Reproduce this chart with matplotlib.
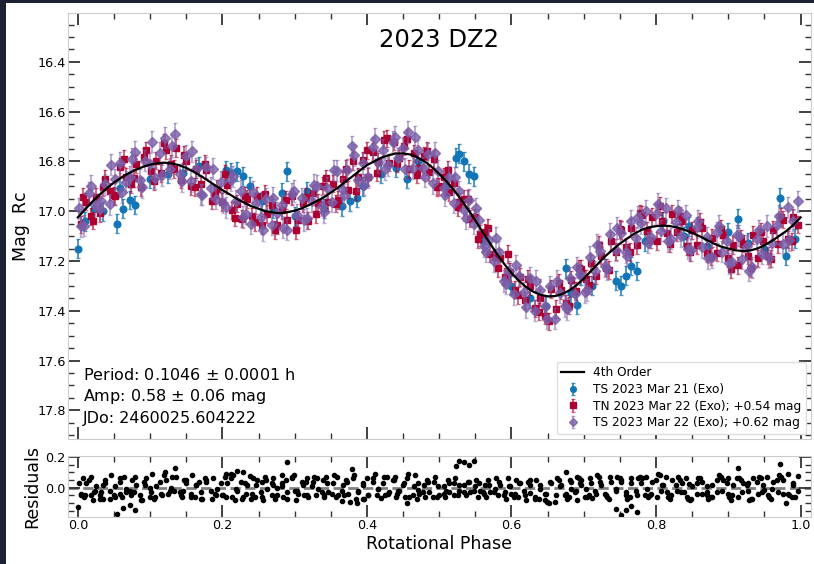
import numpy as np
import matplotlib
matplotlib.use('Agg')
import matplotlib.pyplot as plt
from matplotlib.ticker import MultipleLocator
from matplotlib.patches import Rectangle
from matplotlib.colors import to_rgba

# 4th order fit, every 0.01 in phase
fit_mag = [17.025, 16.993, 16.962, 16.934, 16.908, 16.885, 16.865, 16.848, 16.834, 16.822,
           16.813, 16.807, 16.805, 16.808, 16.815, 16.826, 16.841, 16.858, 16.877, 16.896,
           16.915, 16.932, 16.950, 16.965, 16.980, 16.990, 17.000, 17.005, 17.008, 17.004,
           16.998, 16.988, 16.975, 16.960, 16.945, 16.925, 16.905, 16.882, 16.860, 16.837,
           16.815, 16.800, 16.785, 16.775, 16.768, 16.768, 16.772, 16.784, 16.800, 16.823,
           16.850, 16.880, 16.914, 16.952, 16.993, 17.037, 17.083, 17.128, 17.172, 17.212,
           17.248, 17.279, 17.304, 17.323, 17.336, 17.342, 17.341, 17.333, 17.318, 17.297,
           17.271, 17.240, 17.210, 17.180, 17.155, 17.130, 17.110, 17.090, 17.075, 17.065,
           17.060, 17.058, 17.060, 17.066, 17.075, 17.087, 17.100, 17.115, 17.130, 17.142,
           17.150, 17.157, 17.160, 17.158, 17.150, 17.137, 17.120, 17.100, 17.080, 17.055,
           17.025]
fit_phase = np.linspace(0, 1, len(fit_mag))

# TS 2023 Mar 21 (Exo)
ph_ts21 = [0.000, 0.010, 0.022, 0.035, 0.054, 0.058, 0.062, 0.072, 0.079, 0.100,
           0.125, 0.146, 0.168, 0.205, 0.212, 0.220, 0.228, 0.238, 0.255, 0.270,
           0.282, 0.289, 0.300, 0.317, 0.340, 0.365, 0.377, 0.386, 0.395, 0.420,
           0.440, 0.455, 0.470, 0.510, 0.523, 0.528, 0.534, 0.541, 0.548, 0.560,
           0.600, 0.625, 0.648, 0.675, 0.682, 0.691, 0.696, 0.712, 0.745, 0.752,
           0.758, 0.765, 0.773, 0.785, 0.810, 0.839, 0.845, 0.870, 0.900, 0.913,
           0.927, 0.950, 0.971, 0.980, 0.992]
mag_ts21 = [17.150, 17.040, 16.990, 17.000, 17.050, 16.905, 16.990, 16.955, 16.975, 16.870,
            16.850, 16.845, 16.820, 16.835, 16.845, 16.840, 16.860, 16.900, 16.960, 16.990,
            16.925, 16.840, 17.020, 16.920, 16.990, 16.980, 16.960, 16.945, 16.900, 16.850,
            16.825, 16.870, 16.800, 16.900, 16.785, 16.770, 16.800, 16.850, 16.860, 17.120,
            17.300, 17.350, 17.380, 17.230, 17.330, 17.375, 17.260, 17.300, 17.280, 17.300,
            17.260, 17.220, 17.240, 17.120, 17.040, 17.100, 17.060, 17.140, 17.085, 17.030,
            17.127, 17.150, 16.945, 17.180, 17.110]
res_ts21 = [-0.125, -0.045, -0.030, -0.073, -0.170, -0.040, -0.133, -0.113, -0.144, -0.060,
            -0.043, -0.019, 0.037, 0.089, 0.090, 0.110, 0.102, 0.077, 0.035, 0.015,
            0.082, 0.164, -0.022, 0.060, -0.045, -0.087, -0.093, -0.099, -0.074, -0.065,
            -0.057, -0.100, -0.016, -0.020, 0.140, 0.173, 0.166, 0.144, 0.170, -0.030,
            -0.040, -0.032, -0.039, 0.100, -0.010, -0.080, 0.020, -0.066, -0.138, -0.174,
            -0.146, -0.120, -0.155, -0.050, 0.018, -0.026, 0.021, -0.025, 0.065, 0.128,
            0.032, -0.013, 0.153, -0.100, -0.060]

# TN 2023 Mar 22 (Exo); +0.54 mag
ph_tn22 = [0.004, 0.011, 0.018, 0.025, 0.031, 0.038, 0.045, 0.052, 0.059, 0.066,
           0.073, 0.080, 0.087, 0.094, 0.101, 0.108, 0.115, 0.122, 0.129, 0.136,
           0.143, 0.150, 0.157, 0.164, 0.171, 0.178, 0.185, 0.192, 0.199, 0.206,
           0.213, 0.220, 0.227, 0.234, 0.241, 0.248, 0.255, 0.262, 0.269, 0.276,
           0.283, 0.290, 0.297, 0.304, 0.311, 0.318, 0.325, 0.332, 0.339, 0.346,
           0.353, 0.360, 0.367, 0.374, 0.381, 0.388, 0.395, 0.402, 0.409, 0.416,
           0.423, 0.430, 0.437, 0.444, 0.451, 0.458, 0.465, 0.472, 0.479, 0.486,
           0.493, 0.500, 0.507, 0.514, 0.521, 0.528, 0.535, 0.542, 0.549, 0.556,
           0.563, 0.570, 0.577, 0.584, 0.591, 0.598, 0.605, 0.612, 0.619, 0.626,
           0.633, 0.640, 0.647, 0.654, 0.661, 0.668, 0.675, 0.682, 0.689, 0.696,
           0.703, 0.710, 0.717, 0.724, 0.731, 0.738, 0.745, 0.752, 0.759, 0.766,
           0.773, 0.780, 0.787, 0.794, 0.801, 0.808, 0.815, 0.822, 0.829, 0.836,
           0.843, 0.850, 0.857, 0.864, 0.871, 0.878, 0.885, 0.892, 0.899, 0.906,
           0.913, 0.920, 0.927, 0.934, 0.941, 0.948, 0.955, 0.962, 0.969, 0.976,
           0.983, 0.990, 0.997,
           0.0075, 0.0215, 0.0355, 0.0495, 0.0635, 0.0775, 0.0915, 0.1055, 0.1195, 0.1335,
           0.1475, 0.1615, 0.1755, 0.1895, 0.2035, 0.2175, 0.2315, 0.2455, 0.2595, 0.2735,
           0.2875, 0.3015, 0.3155, 0.3295, 0.3435, 0.3575, 0.3715, 0.3855, 0.3995, 0.4135,
           0.4275, 0.4415, 0.4555, 0.4695, 0.4835, 0.4975, 0.5115, 0.5255, 0.5395, 0.5535,
           0.5675, 0.5815, 0.5955, 0.6095, 0.6235, 0.6375, 0.6515, 0.6655, 0.6795, 0.6935,
           0.7075, 0.7215, 0.7355, 0.7495, 0.7635, 0.7775, 0.7915, 0.8055, 0.8195, 0.8335,
           0.8475, 0.8615, 0.8755, 0.8895, 0.9035, 0.9175, 0.9315, 0.9455, 0.9595, 0.9735,
           0.9875]
mag_tn22 = [17.053, 16.962, 17.021, 16.942, 17.007, 16.870, 16.920, 16.940, 16.822, 16.861,
            16.890, 16.810, 16.903, 16.756, 16.840, 16.797, 16.846, 16.756, 16.810, 16.746,
            16.873, 16.800, 16.900, 16.831, 16.892, 16.836, 16.958, 16.910, 16.963, 16.895,
            16.997, 16.970, 17.030, 16.951, 17.021, 16.938, 17.055, 17.011, 16.975, 17.057,
            16.997, 17.034, 16.940, 17.034, 16.967, 17.038, 16.928, 16.967, 16.897, 16.963,
            16.889, 16.955, 16.869, 16.913, 16.798, 16.862, 16.796, 16.862, 16.761, 16.801,
            16.712, 16.805, 16.720, 16.788, 16.738, 16.831, 16.768, 16.827, 16.778, 16.844,
            16.791, 16.900, 16.861, 16.924, 16.888, 16.963, 16.950, 17.030, 17.025, 17.090,
            17.085, 17.170, 17.185, 17.186, 17.263, 17.244, 17.315, 17.264, 17.358, 17.300,
            17.390, 17.347, 17.420, 17.312, 17.392, 17.317, 17.370, 17.276, 17.320, 17.231,
            17.271, 17.210, 17.259, 17.178, 17.227, 17.120, 17.162, 17.076, 17.142, 17.068,
            17.135, 17.015, 17.078, 17.023, 17.120, 17.038, 17.089, 17.011, 17.085, 17.041,
            17.139, 17.077, 17.136, 17.066, 17.167, 17.107, 17.166, 17.094, 17.189, 17.135,
            17.218, 17.130, 17.179, 17.095, 17.189, 17.120, 17.179, 17.076, 17.132, 17.034,
            17.113, 17.025, 17.054,
            16.941, 17.038, 16.902, 16.936, 16.789, 16.867, 16.781, 16.880, 16.725, 16.830,
            16.773, 16.903, 16.809, 16.935, 16.851, 17.026, 16.937, 17.045, 16.930, 17.076,
            16.955, 17.076, 16.941, 17.011, 16.868, 16.970, 16.829, 16.918, 16.756, 16.845,
            16.707, 16.808, 16.710, 16.853, 16.758, 16.903, 16.835, 16.985, 16.951, 17.113,
            17.067, 17.228, 17.172, 17.338, 17.271, 17.403, 17.442, 17.287, 17.379, 17.230,
            17.297, 17.135, 17.236, 17.071, 17.163, 17.009, 17.114, 16.979, 17.130, 17.019,
            17.164, 17.042, 17.183, 17.071, 17.232, 17.109, 17.228, 17.084, 17.191, 17.023,
            17.121]
res_tn22 = [-0.04, 0.03, -0.05, 0.01, -0.07, 0.05, -0.02, -0.06, 0.04, -0.01,
            -0.05, 0.02, -0.08, 0.06, -0.03, 0.01, -0.04, 0.05, 0.00, 0.07,
            -0.05, 0.03, -0.06, 0.02, -0.03, 0.04, -0.07, -0.01, -0.05, 0.03,
            -0.06, -0.02, -0.07, 0.02, -0.04, 0.05, -0.06, -0.01, 0.03, -0.05,
            0.01, -0.03, 0.06, -0.04, 0.02, -0.06, 0.04, -0.01, 0.05, -0.03,
            0.03, -0.05, 0.02, -0.04, 0.06, -0.02, 0.03, -0.05, 0.04, -0.01,
            0.07, -0.03, 0.05, -0.02, 0.03, -0.06, 0.01, -0.04, 0.02, -0.03,
            0.04, -0.05, 0.01, -0.03, 0.03, -0.02, 0.02, -0.03, 0.01, -0.02,
            0.02, -0.03, -0.01, 0.02, -0.03, 0.01, -0.04, 0.03, -0.05, 0.02,
            -0.06, -0.01, -0.08, 0.03, -0.05, 0.02, -0.04, 0.04, -0.02, 0.05,
            -0.01, 0.03, -0.04, 0.02, -0.05, 0.04, -0.02, 0.05, -0.03, 0.03,
            -0.05, 0.06, -0.01, 0.04, -0.06, 0.02, -0.03, 0.05, -0.02, 0.03,
            -0.06, 0.01, -0.04, 0.04, -0.05, 0.02, -0.03, 0.05, -0.04, 0.02,
            -0.06, 0.03, -0.02, 0.06, -0.04, 0.02, -0.05, 0.04, -0.03, 0.05,
            -0.04, 0.03, -0.02,
            0.06, -0.08, 0.02, -0.05, 0.07, -0.03, 0.04, -0.07, 0.08, -0.02,
            0.05, -0.06, 0.06, -0.04, 0.07, -0.08, 0.03, -0.06, 0.07, -0.07,
            0.05, -0.08, 0.04, -0.05, 0.07, -0.06, 0.05, -0.07, 0.06, -0.05,
            0.07, -0.04, 0.06, -0.07, 0.05, -0.06, 0.05, -0.05, 0.04, -0.06,
            0.05, -0.05, 0.06, -0.06, 0.04, -0.07, -0.10, 0.05, -0.06, 0.06,
            -0.05, 0.07, -0.07, 0.06, -0.06, 0.07, -0.05, 0.08, -0.07, 0.05,
            -0.08, 0.06, -0.06, 0.07, -0.08, 0.05, -0.07, 0.06, -0.07, 0.07,
            -0.06]

# TS 2023 Mar 22 (Exo); +0.62 mag
ph_ts22 = [0.002, 0.009, 0.016, 0.024, 0.030, 0.037, 0.044, 0.051, 0.058, 0.066,
           0.072, 0.079, 0.086, 0.093, 0.100, 0.107, 0.114, 0.121, 0.128, 0.135,
           0.142, 0.149, 0.156, 0.163, 0.170, 0.177, 0.184, 0.191, 0.198, 0.205,
           0.212, 0.219, 0.226, 0.233, 0.240, 0.247, 0.254, 0.261, 0.268, 0.275,
           0.282, 0.289, 0.296, 0.303, 0.310, 0.317, 0.324, 0.331, 0.338, 0.345,
           0.352, 0.359, 0.366, 0.373, 0.380, 0.387, 0.394, 0.401, 0.408, 0.415,
           0.422, 0.429, 0.436, 0.443, 0.450, 0.457, 0.464, 0.471, 0.478, 0.485,
           0.492, 0.499, 0.506, 0.513, 0.520, 0.527, 0.534, 0.541, 0.548, 0.555,
           0.562, 0.569, 0.576, 0.583, 0.590, 0.597, 0.604, 0.611, 0.618, 0.625,
           0.632, 0.639, 0.646, 0.653, 0.660, 0.667, 0.674, 0.681, 0.688, 0.695,
           0.702, 0.709, 0.716, 0.723, 0.730, 0.737, 0.744, 0.751, 0.758, 0.765,
           0.772, 0.779, 0.786, 0.793, 0.800, 0.807, 0.814, 0.821, 0.828, 0.835,
           0.842, 0.849, 0.856, 0.863, 0.870, 0.877, 0.884, 0.891, 0.898, 0.905,
           0.912, 0.919, 0.926, 0.933, 0.940, 0.947, 0.954, 0.961, 0.968, 0.975,
           0.982, 0.989, 0.996,
           0.0045, 0.0185, 0.0325, 0.0465, 0.0605, 0.0745, 0.0885, 0.1025, 0.1165, 0.1305,
           0.1445, 0.1585, 0.1725, 0.1865, 0.2005, 0.2145, 0.2285, 0.2425, 0.2565, 0.2705,
           0.2845, 0.2985, 0.3125, 0.3265, 0.3405, 0.3545, 0.3685, 0.3825, 0.3965, 0.4105,
           0.4245, 0.4385, 0.4525, 0.4665, 0.4805, 0.4945, 0.5085, 0.5225, 0.5365, 0.5505,
           0.5645, 0.5785, 0.5925, 0.6065, 0.6205, 0.6345, 0.6485, 0.6625, 0.6765, 0.6905,
           0.7045, 0.7185, 0.7325, 0.7465, 0.7605, 0.7745, 0.7885, 0.8025, 0.8165, 0.8305,
           0.8445, 0.8585, 0.8725, 0.8865, 0.9005, 0.9145, 0.9285, 0.9425, 0.9565, 0.9705,
           0.9845]
mag_ts22 = [16.989, 17.058, 16.927, 16.975, 16.990, 16.892, 16.973, 16.872, 16.805, 16.881,
            16.862, 16.761, 16.874, 16.797, 16.810, 16.867, 16.766, 16.705, 16.829, 16.690,
            16.852, 16.779, 16.879, 16.830, 16.932, 16.824, 16.907, 16.949, 16.881, 16.984,
            16.875, 16.958, 16.919, 17.010, 17.050, 16.967, 17.024, 16.950, 17.054, 17.007,
            16.977, 17.074, 16.930, 17.015, 16.948, 17.029, 16.959, 16.898, 16.978, 16.905,
            16.961, 16.837, 16.911, 16.835, 16.740, 16.874, 16.808, 16.864, 16.743, 16.802,
            16.753, 16.816, 16.720, 16.788, 16.748, 16.681, 16.827, 16.755, 16.826, 16.771,
            16.888, 16.837, 16.908, 16.861, 16.965, 16.920, 16.996, 16.955, 17.050, 17.035,
            17.140, 17.115, 17.200, 17.162, 17.280, 17.241, 17.332, 17.262, 17.326, 17.268,
            17.399, 17.316, 17.380, 17.302, 17.432, 17.327, 17.381, 17.268, 17.332, 17.254,
            17.324, 17.183, 17.242, 17.161, 17.220, 17.092, 17.155, 17.088, 17.164, 17.040,
            17.107, 17.047, 16.999, 17.104, 17.010, 17.078, 16.988, 17.110, 17.044, 17.100,
            17.017, 17.156, 17.065, 17.145, 17.105, 17.185, 17.085, 17.163, 17.119, 17.204,
            17.097, 17.190, 17.139, 17.226, 17.110, 17.171, 17.060, 17.128, 17.054, 17.130,
            16.985, 17.038, 16.960,
            17.061, 16.897, 16.958, 16.813, 16.924, 16.790, 16.904, 16.721, 16.856, 16.738,
            16.880, 16.759, 16.933, 16.829, 16.966, 16.860, 17.023, 16.923, 17.077, 16.945,
            17.066, 16.919, 17.035, 16.895, 17.004, 16.836, 16.935, 16.774, 16.893, 16.709,
            16.831, 16.700, 16.829, 16.700, 16.861, 16.765, 16.936, 16.864, 17.027, 16.989,
            17.163, 17.106, 17.291, 17.218, 17.385, 17.279, 17.431, 17.279, 17.393, 17.226,
            17.317, 17.135, 17.233, 17.067, 17.178, 17.023, 17.126, 16.970, 17.119, 16.996,
            17.150, 17.038, 17.189, 17.058, 17.210, 17.098, 17.239, 17.077, 17.186, 17.020,
            17.116]
res_ts22 = [0.03, -0.06, 0.05, -0.02, -0.05, 0.03, -0.07, 0.01, 0.06, -0.03,
            -0.02, 0.07, -0.05, 0.02, 0.00, -0.06, 0.04, 0.10, -0.02, 0.125,
            -0.03, 0.05, -0.04, 0.02, -0.07, 0.05, -0.02, -0.05, 0.03, -0.06,
            0.06, -0.01, 0.04, -0.04, -0.07, 0.02, -0.03, 0.05, -0.05, 0.00,
            0.03, -0.07, 0.07, -0.02, 0.04, -0.05, 0.01, 0.06, -0.03, 0.03,
            -0.04, 0.07, -0.02, 0.04, 0.12, -0.03, 0.02, -0.05, 0.06, -0.01,
            0.03, -0.04, 0.05, -0.02, 0.02, 0.09, -0.05, 0.03, -0.03, 0.04,
            -0.06, 0.01, -0.04, 0.03, -0.05, 0.02, -0.03, 0.04, -0.02, 0.03,
            -0.04, 0.02, -0.03, 0.04, -0.05, 0.01, -0.06, 0.03, -0.02, 0.05,
            -0.07, 0.02, -0.04, 0.04, -0.09, 0.01, -0.05, 0.05, -0.03, 0.03,
            -0.06, 0.06, -0.02, 0.04, -0.04, 0.07, -0.01, 0.04, -0.05, 0.06,
            -0.02, 0.03, 0.07, -0.04, 0.05, -0.02, 0.07, -0.05, 0.02, -0.03,
            0.06, -0.07, 0.03, -0.04, 0.01, -0.06, 0.05, -0.02, 0.03, -0.05,
            0.06, -0.03, 0.02, -0.07, 0.04, -0.03, 0.07, -0.01, 0.05, -0.04,
            0.09, 0.02, 0.077,
            -0.05, 0.07, -0.03, 0.08, -0.06, 0.05, -0.08, 0.09, -0.05, 0.07,
            -0.06, 0.08, -0.07, 0.06, -0.05, 0.08, -0.06, 0.06, -0.08, 0.06,
            -0.06, 0.08, -0.05, 0.07, -0.06, 0.08, -0.05, 0.08, -0.07, 0.09,
            -0.05, 0.07, -0.06, 0.08, -0.06, 0.07, -0.06, 0.06, -0.05, 0.05,
            -0.06, 0.06, -0.07, 0.05, -0.08, 0.05, -0.09, 0.06, -0.07, 0.07,
            -0.06, 0.08, -0.06, 0.07, -0.07, 0.06, -0.06, 0.09, -0.06, 0.07,
            -0.07, 0.06, -0.07, 0.08, -0.06, 0.06, -0.08, 0.07, -0.06, 0.08,
            -0.05]

info_lines = ['Period: 0.1046 $\\pm$ 0.0001 h',
              'Amp: 0.58 $\\pm$ 0.06 mag',
              'JDo: 2460025.604222']

W, H = 814, 564
fig = plt.figure(figsize=(W / 100, H / 100), dpi=100)
fig.patch.set_facecolor('#1b2333')
fig.add_artist(Rectangle((6 / W, 0), 1, 1 - 3 / H, transform=fig.transFigure,
                         facecolor='white', edgecolor='none', zorder=-10))

ax = fig.add_axes([67.7 / W, 1 - 439 / H, 743 / W, 425.7 / H])
axr = fig.add_axes([67.7 / W, 1 - 516.7 / H, 743 / W, 61 / H], sharex=ax)

blue = '#1276b6'
red = '#ad0030'
purple = '#7a5ea8'

ax.errorbar(ph_ts21, mag_ts21, yerr=0.038, fmt='o', ms=4.8, color=blue,
            ecolor=to_rgba(blue, 0.75), elinewidth=1.4, capsize=1.6,
            label='TS 2023 Mar 21 (Exo)', zorder=2)
ax.errorbar(ph_tn22, mag_tn22, yerr=0.035, fmt='s', ms=5, color=red,
            ecolor=to_rgba(red, 0.6), elinewidth=1.4, capsize=1.6,
            label='TN 2023 Mar 22 (Exo); +0.54 mag', zorder=3)
ax.errorbar(ph_ts22, mag_ts22, yerr=0.043, fmt='D', ms=4.8, color=to_rgba(purple, 0.8),
            ecolor=to_rgba(purple, 0.5), elinewidth=1.4, capsize=1.6,
            label='TS 2023 Mar 22 (Exo); +0.62 mag', zorder=4)
ax.plot(fit_phase, fit_mag, color='black', lw=1.6, label='4th Order', zorder=5)

ax.set_xlim(-0.014, 1.014)
ax.set_ylim(17.915, 16.205)
ax.set_ylabel('Mag  Rc', fontsize=12.5)
ax.yaxis.set_label_coords(-0.051, 0.5)
ax.text(0.5, 0.937, '2023 DZ2', transform=ax.transAxes, ha='center', va='center', fontsize=17.5)
for i, line in enumerate(info_lines):
    ax.text(0.02, 0.150 - i * 0.0505, line, transform=ax.transAxes,
            ha='left', va='center', fontsize=11.5)

leg = ax.legend(loc='lower right', fontsize=8.7, labelspacing=0.3, handlelength=1.9,
                borderaxespad=0.4, handletextpad=0.7, framealpha=1, markerscale=0.85)
leg.get_frame().set_edgecolor('#dddddd')

# residuals
axr.axhline(0, color='gray', ls='--', lw=2, zorder=1)
axr.plot(ph_ts21 + ph_tn22 + ph_ts22, res_ts21 + res_tn22 + res_ts22, 'o',
         color='black', ms=3, zorder=2)
axr.set_ylim(-0.187, 0.207)
axr.set_xlabel('Rotational Phase', fontsize=12.5, labelpad=2)
axr.set_ylabel('Residuals', fontsize=12.5)
axr.yaxis.set_label_coords(-0.035, 0.5)

ax.xaxis.set_major_locator(MultipleLocator(0.2))
ax.xaxis.set_minor_locator(MultipleLocator(0.05))
ax.yaxis.set_major_locator(MultipleLocator(0.2))
ax.yaxis.set_minor_locator(MultipleLocator(0.05))
axr.yaxis.set_major_locator(MultipleLocator(0.2))
axr.yaxis.set_minor_locator(MultipleLocator(0.05))

for a in (ax, axr):
    a.tick_params(which='both', direction='in', top=True, right=True,
                  color='#333333', labelsize=9.2, pad=1.5)
    a.tick_params(which='major', length=8.5, width=1.3)
    a.tick_params(which='minor', length=4.3, width=1.0)
    for s in a.spines.values():
        s.set_color('#cccccc')
ax.tick_params(labelbottom=False)

fig.savefig('out.png', dpi=100)
